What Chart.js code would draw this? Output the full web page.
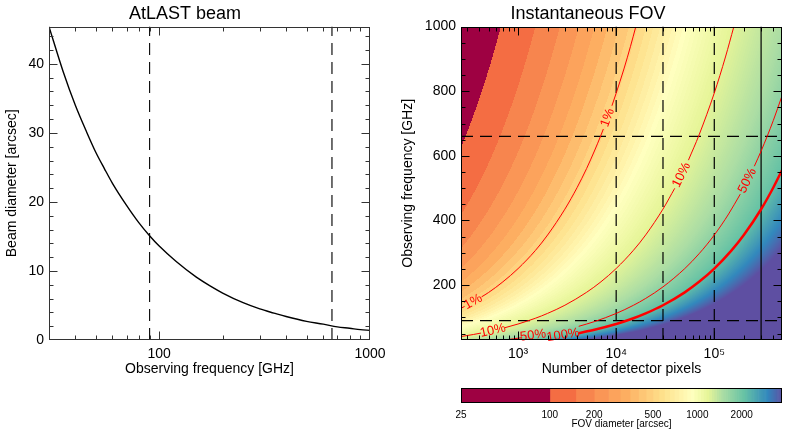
<!DOCTYPE html>
<html>
<head>
<meta charset="utf-8">
<script src="https://cdn.jsdelivr.net/npm/chart.js@4.4.1/dist/chart.umd.min.js"></script>
<style>
  body { margin: 0; background: #fff; }
  #wrap { position: relative; width: 788px; height: 433px; }
  canvas { position: absolute; }
</style>
</head>
<body>
<div id="wrap">
  <canvas id="beamChart" width="394" height="433" style="left:0;top:0"></canvas>
  <canvas id="fovChart" width="394" height="380" style="left:394px;top:0"></canvas>
  <canvas id="barChart" width="394" height="53" style="left:394px;top:380px"></canvas>
</div>
<script>
Chart.defaults.font.family = "'Liberation Sans', Arial, sans-serif";
Chart.defaults.color = '#000';
Chart.defaults.animation = false;

// ---- panneau gauche : lobe AtLAST
const beamFreq = [30, 35, 40, 45, 50, 55, 60, 70, 80, 90, 100, 120, 150, 175, 200, 250, 300, 350, 400, 500, 600, 700, 800, 900, 1000];
const beamSize = [45.4, 38.9, 34.0, 30.3, 27.2, 24.8, 22.7, 19.5, 17.0, 15.1, 13.6, 11.4, 9.1, 7.8, 6.8, 5.4, 4.5, 3.9, 3.4, 2.7, 2.3, 1.9, 1.7, 1.5, 1.4];
const beamBandFreq = [90, 660];
const beamXTicks = [100, 1000];
const beamYTicks = [0, 10, 20, 30, 40];
const beamMin = 0, beamMax = 45.4;

// ---- panneau droit : champ instantane
const pixMin = 262, pixMax = 490000, freqMin = 30, freqMax = 1000;
const fovXTicks = [1000, 10000, 100000];
const fovXTickLabels = ['10³', '10⁴', '10⁵'];
const fovYTicks = [200, 400, 600, 800, 1000];
const bandFreq = [90, 660];
const arrayPixels = [10000, 30000, 100000];
const pixelLimit = [300000];

// FOV diameter [arcsec] = fovPerRootPix * sqrt(pixels) / freq
const fovPerRootPix = 3871;
const fovLevel0 = 100, fovStep = 50;
const fovBelowColor = '#9e0142';
const mapStopFov = [100, 300, 520, 850, 1450, 2700, 4700, 6700, 8600];
const mapStopColor = ['#f46d43', '#fdae61', '#fee08b', '#ffffbf', '#e6f598', '#abdda4', '#66c2a5', '#3288bd', '#5e4fa2'];

// contours (fraction of the full field), null = label gap
const contourNames = ['1%', '10%', '50%', '100%'];
const contourPix = [
  [262, 285, 348, 425, 500, 700, 1000, 1500, 2000, 3000, 4000, 5000, 6000, 7000, 7400, 8190, 9050, 10000, 12000, 14000, 15800],
  [262, 350, 420, 553, 735, 1000, 1500, 2000, 3000, 5000, 7000, 10000, 15000, 20000, 30000, 39500, 46400, 54500, 70000, 100000, 130000, 158000],
  [714, 900, 1100, 1420, 4150, 6000, 10000, 15000, 20000, 30000, 50000, 70000, 100000, 140000, 184000, 217000, 256000, 300000, 400000, 490000],
  [2000, 2870, 4150, 6000, 10000, 15000, 20000, 30000, 50000, 70000, 100000, 150000, 200000, 300000, 400000, 490000]
];
const contourFreq = [
  [128, 134, null, 163.6, 177, 210, 251, 307, 355, 435, 502, 561, 615, 664, 683, null, 755, 794, 869, 939, 998],
  [40.7, 47, 51.5, null, 68.1, 79.5, 97.3, 112.4, 137.6, 177.7, 210.2, 251.3, 307.7, 355.3, 435.2, 499.4, null, 586.6, 664.8, 794.5, 906, 999],
  [30, 33.7, 37.2, null, 72.3, 86.9, 112.2, 137.5, 158.7, 194.4, 251, 297, 354.9, 420, 481.4, null, 567.9, 614.7, 709.8, 785.6],
  [35.5, null, 51.1, 61.5, 79.4, 97.2, 112.2, 137.5, 177.5, 210, 251, 307.4, 354.9, 434.7, 502, 555.5]
];
const contourWidth = [1, 1, 1, 2.5];
const labelText = ['1%', '1%', '10%', '10%', '50%', '50%', '100%'];
const labelCurve = [0, 0, 1, 1, 2, 2, 3];
const labelPix = [8190, 348, 46400, 553, 217000, 1420, 2870];
const labelFreq = [718, 148, 541, 59, 523, 44, 45];

// ---- barre de couleur
const barMin = 25, barMax = 3750;
const barTicks = [25, 100, 200, 500, 1000, 2000];
const barStopFov = [100, 300, 550, 893, 1150, 1450, 2050, 2950, 3750];
const barStopColor = ['#f46d43', '#fdae61', '#fee08b', '#ffffbf', '#e6f598', '#abdda4', '#66c2a5', '#3288bd', '#5e4fa2'];

function hexRgb(h) {
  const n = parseInt(h.slice(1), 16);
  return [(n >> 16) & 255, (n >> 8) & 255, n & 255];
}
function colorAt(stopsFov, stopsColor, v) {
  if (v <= stopsFov[0]) return hexRgb(stopsColor[0]);
  for (let i = 1; i < stopsFov.length; i++) {
    if (v <= stopsFov[i]) {
      const t = Math.log(v / stopsFov[i - 1]) / Math.log(stopsFov[i] / stopsFov[i - 1]);
      const a = hexRgb(stopsColor[i - 1]), b = hexRgb(stopsColor[i]);
      return a.map((c, j) => Math.round(c + (b[j] - c) * t));
    }
  }
  return hexRgb(stopsColor[stopsColor.length - 1]);
}
function minorLog(lo, hi) {
  const out = [];
  for (let d = Math.pow(10, Math.floor(Math.log10(lo))); d < hi; d *= 10)
    for (let m = 2; m <= 9; m++) if (m * d >= lo && m * d <= hi) out.push(m * d);
  return out;
}
function minorLin(lo, hi, step) {
  const out = [];
  for (let v = lo; v <= hi; v += step) out.push(v);
  return out;
}

// cadre et graduations rentrantes sur les 4 cotes (style IDL)
const idlFrame = {
  id: 'idlFrame',
  afterDraw(chart, args, o) {
    const { ctx, chartArea: a, scales: { x, y } } = chart;
    const L = Math.round(a.left) + 0.5, R = Math.round(a.right) - 0.5;
    const T = Math.round(a.top) + 0.5, B = Math.round(a.bottom) - 0.5;
    ctx.save();
    ctx.strokeStyle = o.color || '#222';
    ctx.lineWidth = 1;
    ctx.beginPath();
    const xt = (vals, len) => vals.forEach(v => {
      const p = Math.round(x.getPixelForValue(v)) + 0.5;
      if (p < L || p > R) return;
      ctx.moveTo(p, B); ctx.lineTo(p, B - len);
      ctx.moveTo(p, T); ctx.lineTo(p, T + len);
    });
    const yt = (vals, len) => vals.forEach(v => {
      const p = Math.round(y.getPixelForValue(v)) + 0.5;
      if (p < T || p > B) return;
      ctx.moveTo(L, p); ctx.lineTo(L + len, p);
      ctx.moveTo(R, p); ctx.lineTo(R - len, p);
    });
    xt(o.xMajor || [], 8); xt(o.xMinor || [], 4);
    yt(o.yMajor || [], 8); yt(o.yMinor || [], 4);
    ctx.stroke();
    ctx.strokeRect(L, T, R - L, B - T);
    ctx.restore();
  }
};

// carte de couleur du FOV
const fovMap = {
  id: 'fovMap',
  beforeDatasetsDraw(chart) {
    const { ctx, chartArea: a, scales: { x, y } } = chart;
    const x0 = Math.round(a.left), y0 = Math.round(a.top);
    const w = Math.round(a.right) - x0, h = Math.round(a.bottom) - y0;
    const img = ctx.createImageData(w, h);
    const low = hexRgb(fovBelowColor);
    const cache = {};
    const roots = [];
    for (let i = 0; i < w; i++) roots.push(Math.sqrt(x.getValueForPixel(x0 + i + 0.5)));
    for (let j = 0; j < h; j++) {
      const nu = y.getValueForPixel(y0 + j + 0.5);
      for (let i = 0; i < w; i++) {
        const fov = fovPerRootPix * roots[i] / nu;
        let rgb = low;
        if (fov >= fovLevel0) {
          const band = Math.floor((fov - fovLevel0) / fovStep);
          rgb = cache[band] || (cache[band] = colorAt(mapStopFov, mapStopColor, fovLevel0 + band * fovStep));
        }
        const k = (j * w + i) * 4;
        img.data[k] = rgb[0]; img.data[k + 1] = rgb[1]; img.data[k + 2] = rgb[2]; img.data[k + 3] = 255;
      }
    }
    ctx.putImageData(img, x0, y0);
  }
};

// etiquettes des contours, orientees le long de la courbe
const contourLabels = {
  id: 'contourLabels',
  afterDatasetsDraw(chart) {
    const { ctx, scales: { x, y } } = chart;
    ctx.save();
    ctx.font = "13px 'Liberation Sans', Arial, sans-serif";
    ctx.fillStyle = '#ff0000';
    ctx.textAlign = 'center';
    ctx.textBaseline = 'middle';
    labelText.forEach((t, i) => {
      const c = labelCurve[i];
      const pts = contourPix[c].map((n, j) => ({ n, f: contourFreq[c][j] })).filter(p => p.f !== null);
      const lx = Math.log10(labelPix[i]);
      const near = pts.slice().sort((p, q) => Math.abs(Math.log10(p.n) - lx) - Math.abs(Math.log10(q.n) - lx)).slice(0, 2).sort((p, q) => p.n - q.n);
      const ang = Math.atan2(y.getPixelForValue(near[1].f) - y.getPixelForValue(near[0].f),
                             x.getPixelForValue(near[1].n) - x.getPixelForValue(near[0].n));
      ctx.save();
      ctx.translate(x.getPixelForValue(labelPix[i]), y.getPixelForValue(labelFreq[i]));
      ctx.rotate(ang);
      ctx.fillText(t, 0, 0);
      ctx.restore();
    });
    ctx.restore();
  }
};

const noPadX = h => s => { s.height = h; s.paddingLeft = 0; s.paddingRight = 0; };
const noPadY = w => s => { s.width = w; s.paddingTop = 0; s.paddingBottom = 0; };

// ===== graphe 1 : AtLAST beam
new Chart(document.getElementById('beamChart'), {
  type: 'line',
  data: {
    datasets: [
      {
        data: beamFreq.map((f, i) => ({ x: f, y: beamSize[i] })),
        borderColor: '#000', borderWidth: 1.4, pointRadius: 0, cubicInterpolationMode: 'monotone'
      },
      ...beamBandFreq.map(f => ({
        data: [{ x: f, y: beamMin }, { x: f, y: beamMax }],
        borderColor: '#111', borderWidth: 1.2, borderDash: [12, 7], pointRadius: 0
      }))
    ]
  },
  options: {
    responsive: false,
    layout: { padding: { left: 0, right: 24, top: 0, bottom: 53 } },
    plugins: {
      legend: { display: false },
      tooltip: { enabled: false },
      title: { display: true, text: 'AtLAST beam', font: { size: 18, weight: 'normal' }, color: '#000', padding: { top: 3, bottom: 2 } },
      idlFrame: { color: '#333', xMajor: beamXTicks, xMinor: minorLog(30, 1000), yMajor: beamYTicks, yMinor: minorLin(2, 44, 2).filter(v => v % 10) }
    },
    scales: {
      x: {
        type: 'logarithmic', min: 30, max: 1000,
        grid: { display: false, drawTicks: false }, border: { display: false },
        afterBuildTicks: s => { s.ticks = beamXTicks.map(v => ({ value: v })); },
        afterFit: noPadX(40),
        ticks: { font: { size: 14 }, padding: 6, maxRotation: 0, autoSkip: false, callback: v => String(v) },
        title: { display: true, text: 'Observing frequency [GHz]', font: { size: 14 }, padding: { top: 0, bottom: 2 } }
      },
      y: {
        min: beamMin, max: beamMax,
        grid: { display: false, drawTicks: false }, border: { display: false },
        afterBuildTicks: s => { s.ticks = beamYTicks.map(v => ({ value: v })); },
        afterFit: noPadY(49),
        ticks: { font: { size: 14 }, padding: 5, autoSkip: false, callback: v => String(v) },
        title: { display: true, text: 'Beam diameter [arcsec]', font: { size: 14 }, padding: { top: 4, bottom: 0 } }
      }
    }
  },
  plugins: [idlFrame]
});

// ===== graphe 2 : Instantaneous FOV
const fovDatasets = [];
contourPix.forEach((pix, c) => {
  fovDatasets.push({
    data: pix.map((n, j) => ({ x: n, y: contourFreq[c][j] })),
    borderColor: '#ff0000', borderWidth: contourWidth[c], pointRadius: 0,
    cubicInterpolationMode: 'monotone', spanGaps: false
  });
});
arrayPixels.forEach(n => fovDatasets.push({
  data: [{ x: n, y: freqMin }, { x: n, y: freqMax }],
  borderColor: '#000', borderWidth: 1.2, borderDash: [12, 7], pointRadius: 0
}));
pixelLimit.forEach(n => fovDatasets.push({
  data: [{ x: n, y: freqMin }, { x: n, y: freqMax }],
  borderColor: '#000', borderWidth: 1.2, pointRadius: 0
}));
bandFreq.forEach(f => fovDatasets.push({
  data: [{ x: pixMin, y: f }, { x: pixMax, y: f }],
  borderColor: '#000', borderWidth: 1.2, borderDash: [12, 7], pointRadius: 0
}));

new Chart(document.getElementById('fovChart'), {
  type: 'line',
  data: { datasets: fovDatasets },
  options: {
    responsive: false,
    layout: { padding: { left: 0, right: 6, top: 0, bottom: 0 } },
    plugins: {
      legend: { display: false },
      tooltip: { enabled: false },
      title: { display: true, text: 'Instantaneous FOV', font: { size: 18, weight: 'normal' }, color: '#000', padding: { top: 3, bottom: 2 } },
      idlFrame: { color: '#000', xMajor: fovXTicks, xMinor: minorLog(pixMin, pixMax), yMajor: fovYTicks, yMinor: minorLin(50, 950, 50).filter(v => v % 200) }
    },
    scales: {
      x: {
        type: 'logarithmic', min: pixMin, max: pixMax,
        grid: { display: false, drawTicks: false }, border: { display: false },
        afterBuildTicks: s => { s.ticks = fovXTicks.map(v => ({ value: v })); },
        afterFit: noPadX(40),
        ticks: { font: { size: 14 }, padding: 6, maxRotation: 0, autoSkip: false, callback: v => fovXTickLabels[fovXTicks.indexOf(v)] },
        title: { display: true, text: 'Number of detector pixels', font: { size: 14 }, padding: { top: 0, bottom: 2 } }
      },
      y: {
        min: freqMin, max: freqMax,
        grid: { display: false, drawTicks: false }, border: { display: false },
        afterBuildTicks: s => { s.ticks = fovYTicks.map(v => ({ value: v })); },
        afterFit: noPadY(67),
        ticks: { font: { size: 14 }, padding: 5, autoSkip: false, callback: v => String(v) },
        title: { display: true, text: 'Observing frequency [GHz]', font: { size: 14 }, padding: { top: 6, bottom: 0 } }
      }
    }
  },
  plugins: [fovMap, contourLabels, idlFrame]
});

// ===== barre de couleur
const barBands = [[barMin, fovLevel0, hexRgb(fovBelowColor)]];
for (let lo = fovLevel0; lo < barMax; lo += fovStep) barBands.push([lo, Math.min(lo + fovStep, barMax), colorAt(barStopFov, barStopColor, lo)]);

new Chart(document.getElementById('barChart'), {
  type: 'bar',
  data: {
    labels: ['FOV'],
    datasets: barBands.map(b => ({
      data: [[b[0], b[1]]],
      backgroundColor: 'rgb(' + b[2].join(',') + ')',
      borderWidth: 0, barPercentage: 1, categoryPercentage: 1, grouped: false
    }))
  },
  options: {
    indexAxis: 'y',
    responsive: false,
    layout: { padding: { left: 67, right: 6, top: 8, bottom: 0 } },
    plugins: {
      legend: { display: false },
      tooltip: { enabled: false },
      idlFrame: { color: '#000' }
    },
    scales: {
      x: {
        type: 'logarithmic', min: barMin, max: barMax,
        grid: { display: false, drawTicks: false }, border: { display: false },
        afterBuildTicks: s => { s.ticks = barTicks.map(v => ({ value: v })); },
        afterFit: noPadX(30),
        ticks: { font: { size: 10 }, padding: 6, maxRotation: 0, autoSkip: false, callback: v => String(v) },
        title: { display: true, text: 'FOV diameter [arcsec]', font: { size: 10 }, padding: { top: 0, bottom: 3 } }
      },
      y: { display: false }
    }
  },
  plugins: [idlFrame]
});
</script>
</body>
</html>
